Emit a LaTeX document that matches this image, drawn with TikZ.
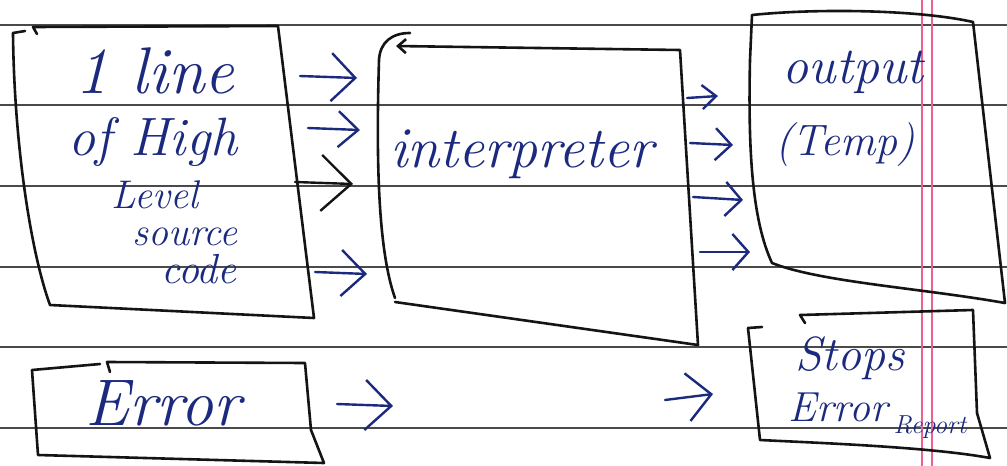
\documentclass[tikz,border=0pt]{standalone}
\usepackage{fontspec}
\usetikzlibrary{arrows.meta}
\definecolor{ink}{HTML}{1B2A7E}
\definecolor{pen}{HTML}{141414}
\definecolor{rulegray}{HTML}{4A4A4A}
\definecolor{marginpink}{HTML}{EE5F93}
\begin{document}
\begin{tikzpicture}[x=1pt,y=-1pt,
  boxline/.style={draw=pen, line width=2.6pt, line join=round, line cap=round},
  ruled/.style={draw=rulegray, line width=2pt},
  marginline/.style={draw=marginpink, line width=1.6pt},
  hand/.style={text=ink, font=\itshape\fontsize{#1}{#1}\selectfont, inner sep=0pt, anchor=base},
  inkarrow/.style 2 args={draw=ink, line width=2.4pt, line cap=round, line join=round, -{Straight Barb[length=#1, width=#2]}},
  penarrow/.style 2 args={draw=pen, line width=2.4pt, line cap=round, line join=round, -{Straight Barb[length=#1, width=#2]}}
]
\useasboundingbox (0,0) rectangle (1007,466);
\fill[white] (0,0) rectangle (1007,466);
% paper rules
\foreach \yy in {25,105,186,267,347,428} \draw[ruled] (0,\yy) -- (1007,\yy);
\draw[marginline] (922,0) -- (922,466);
\draw[marginline] (932,0) -- (932,466);

% source box
\draw[boxline] (13,33) -- (25,31);
\draw[boxline] (37,34) -- (33,27) -- (278,26) -- (314,318) -- (50,305)
  .. controls (30,250) and (14,140) .. (13,33);
\node[hand=66] (src1) at (155,93) {1 line};
\node[hand=54] (src2) at (153,155) {of High};
\node[hand=40] (src3) at (155,208) {Level};
\node[hand=40] (src4) at (185,245) {source};
\node[hand=42] (src5) at (199,283) {code};

% interpreter box
\draw[boxline] (410,33) .. controls (392,33) and (380,42) .. (379,60)
  .. controls (376,160) and (378,250) .. (395,298);
\draw[boxline, -{Straight Barb[length=8pt,width=14pt]}] (395,302) -- (698,345) -- (680,50) -- (396,46);
\node[hand=58] (interp) at (522,167) {interpreter};

% output box
\draw[boxline] (752,15) .. controls (820,8) and (920,10) .. (973,22) -- (1005,303)
  .. controls (920,288) and (820,282) .. (772,263)
  .. controls (752,220) and (748,150) .. (750,60) -- (752,15);
\node[hand=52] (out1) at (853,83) {output};
\node[hand=44] (out2) at (845,155) {(Temp)};

% stops box
\draw[boxline] (748,328) -- (762,327);
\draw[boxline] (805,323) -- (800,315) -- (973,310) -- (977,413) -- (990,458)
  .. controls (930,447) and (820,443) .. (760,440) -- (748,328);
\node[hand=48] (stop1) at (850,370) {Stops};
\node[hand=42] (stop2) at (838,421) {Error};
\node[hand=26] (stop3) at (930,433) {Report};

% error box
\draw[boxline] (110,372) -- (107,362) -- (305,363) -- (311,430) -- (324,463) -- (38,455) -- (32,370) -- (100,364);
\node[hand=66] (err) at (163,425) {Error};

% arrow end points
\coordinate (a1s) at (300,76);  \coordinate (a1e) at (357,78);
\coordinate (a2s) at (308,128); \coordinate (a2e) at (360,130);
\coordinate (a3s) at (295,182); \coordinate (a3e) at (353,184);
\coordinate (a4s) at (315,272); \coordinate (a4e) at (367,274);
\coordinate (b1s) at (687,98);  \coordinate (b1e) at (718,96);
\coordinate (b2s) at (690,143); \coordinate (b2e) at (733,145);
\coordinate (b3s) at (693,197); \coordinate (b3e) at (743,200);
\coordinate (b4s) at (700,252); \coordinate (b4e) at (750,252);
\coordinate (c1s) at (337,404); \coordinate (c1e) at (393,406);
\coordinate (c2s) at (665,400); \coordinate (c2e) at (713,394);

\draw[inkarrow={24pt}{48pt}] (a1s) -- (a1e);
\draw[inkarrow={20pt}{36pt}] (a2s) -- (a2e);
\draw[penarrow={30pt}{56pt}] (a3s) -- (a3e);
\draw[inkarrow={24pt}{46pt}] (a4s) -- (a4e);
\draw[inkarrow={14pt}{24pt}] (b1s) -- (b1e);
\draw[inkarrow={16pt}{32pt}] (b2s) -- (b2e);
\draw[inkarrow={16pt}{34pt}] (b3s) -- (b3e);
\draw[inkarrow={16pt}{36pt}] (b4s) -- (b4e);
\draw[inkarrow={26pt}{50pt}] (c1s) -- (c1e);
\draw[inkarrow={24pt}{48pt}] (c2s) -- (c2e);
\end{tikzpicture}
\end{document}
